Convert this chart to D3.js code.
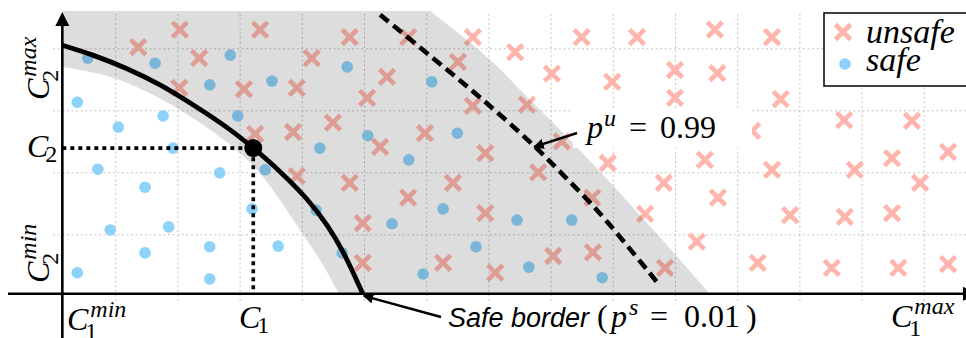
<!DOCTYPE html>
<html>
<head>
<meta charset="utf-8">
<script src="https://cdn.jsdelivr.net/npm/d3@7"></script>
<style>
  body { margin: 0; background: #fff; }
  .math { font-family: "Liberation Serif", "DejaVu Serif", serif; font-size: 32px; fill: #000; }
  .it { font-style: italic; }
  .small { font-size: 24px; }
  .sans { font-family: "Liberation Sans", Arial, sans-serif; font-style: italic; font-size: 27px; }
</style>
</head>
<body>
<svg id="chart"></svg>
<script>
// grid cells are the unit on both axes
var xGrid = d3.range(1, 15),
    yGrid = [1, 2, 3, 4]

// unsafe samples (crosses)
var unsafePts = [
  [1.37,4.02],[2.04,4.30],[3.33,4.30],[2.35,3.84],[4.16,3.84],[4.77,4.18],[2.03,3.36],[3.07,3.34],
  [3.92,3.36],[5.05,3.20],[4.50,2.80],[3.86,2.65],[3.25,2.62],[5.26,2.41],[3.92,1.94],[4.77,1.83],
  [4.98,1.18],[4.98,0.54],[5.71,4.18],[6.75,4.18],[7.43,3.94],[6.51,3.78],[5.37,3.54],[8.50,4.18],
  [9.39,4.18],[8.02,3.59],[8.99,3.46],[6.75,3.07],[7.62,3.09],[5.98,2.63],[6.95,2.31],[8.18,2.50],
  [7.80,2.00],[8.92,2.15],[6.43,1.83],[5.71,1.59],[8.67,1.59],[6.95,1.34],[9.52,1.33],[6.27,0.54],
  [8.04,0.65],[8.68,0.71],[7.11,0.38],[9.82,1.83],[9.84,0.46],[10.35,0.88],[10.69,1.59],[10.48,2.20],
  [10.00,3.65],[10.00,3.20],[10.64,4.30],[10.68,3.60],[11.56,4.18],[11.70,3.18],[12.72,2.84],[13.81,2.83],
  [11.24,2.67],[11.56,2.04],[12.89,2.04],[13.49,2.23],[14.39,2.33],[13.94,1.83],[11.85,1.31],[12.73,1.28],
  [13.49,1.34],[11.33,0.54],[12.52,0.46],[13.59,0.46],[14.39,0.52]
]

// safe samples (dots)
var safePts = [
  [0.56,3.84],[1.64,3.76],[2.85,3.89],[2.52,3.41],[3.52,3.47],[4.73,3.70],[0.39,3.13],[1.77,2.91],
  [2.97,2.91],[1.05,2.73],[1.93,2.39],[5.06,2.59],[4.29,2.39],[3.41,2.04],[0.72,2.05],[2.68,1.99],
  [1.48,1.76],[3.20,1.41],[4.23,1.39],[0.92,1.07],[1.86,1.12],[2.52,0.80],[3.62,0.81],[1.48,0.70],
  [4.65,0.70],[0.39,0.38],[2.52,0.28],[6.09,3.46],[6.50,2.63],[5.72,2.20],[6.27,1.41],[7.46,1.23],
  [8.34,1.23],[6.80,0.80],[5.95,0.36],[7.65,0.47],[8.83,0.30],[5.45,1.17]
]

var origin = [0.15, 0.04]
var pointC = [3.22, 2.39]

// safe border p^s = 0.01
var safeBorder = [[0.15,4.05],[0.64,3.89],[1.19,3.67],[1.72,3.41],[2.25,3.09],[2.80,2.72],[3.22,2.39],
  [3.65,2.01],[4.08,1.57],[4.41,1.14],[4.66,0.72],[4.98,0.04]]
// p^u = 0.99 line
var unsafeBorder = [[5.26,4.54],[6.11,3.84],[6.91,3.17],[7.72,2.44],[8.20,1.96],[8.79,1.34],[9.71,0.23]]
// grey uncertainty band
var bandTop = 4.60
var bandOuter = [[6.06,4.60],[6.46,4.29],[7.03,3.81],[7.67,3.17],[8.39,2.44],[9.12,1.66],[9.84,0.86],[10.56,0.04]]
var bandInner = [[0.16,3.70],[0.92,3.54],[1.72,3.19],[2.42,2.76],[2.95,2.36],[3.33,1.98],[3.65,1.55],
  [3.97,1.07],[4.29,0.59],[4.60,0.04]]

var width = 966, height = 338

var x = d3.scaleLinear().domain([0, 15.5]).range([53, 53 + 15.5 * 62.2]),
    y = d3.scaleLinear().domain([0, 4.8]).range([296.3, 296.3 - 4.8 * 62])

var svg = d3.select("#chart")
    .attr("width", width)
    .attr("height", height)
    .style("display", "block")

var defs = svg.append("defs")
defs.append("marker")
    .attr("id", "head")
    .attr("viewBox", "0 0 10 10")
    .attr("refX", 9).attr("refY", 5)
    .attr("markerWidth", 4.4).attr("markerHeight", 4.4)
    .attr("orient", "auto")
  .append("path")
    .attr("d", "M0,0L10,5L0,10z")
    .attr("fill", "#000")

// dotted grid, through d3 axes with long ticks
svg.append("g")
    .attr("transform", "translate(0,301)")
    .call(d3.axisBottom(x).tickValues(xGrid).tickSize(-289).tickFormat(""))
svg.append("g")
    .attr("transform", "translate(53,0)")
    .call(d3.axisLeft(y).tickValues(yGrid).tickSize(-(width - 53)).tickFormat(""))
svg.selectAll(".domain").remove()
svg.selectAll(".tick line")
    .attr("stroke", "#c4c4c4")
    .attr("stroke-width", 1)
    .attr("stroke-dasharray", "2,2.6")

// markers
var crossPath = "M-7.5,-7.5L7.5,7.5M-7.5,7.5L7.5,-7.5"
svg.append("g").selectAll("path")
    .data(unsafePts)
    .enter().append("path")
    .attr("d", crossPath)
    .attr("transform", d => `translate(${x(d[0])},${y(d[1])})`)
    .style("stroke", "#ffb5ab")
    .style("stroke-width", 4.6)
    .style("fill", "none")

svg.append("g").selectAll("circle")
    .data(safePts)
    .enter().append("circle")
    .attr("cx", d => x(d[0]))
    .attr("cy", d => y(d[1]))
    .attr("r", 5.8)
    .style("fill", "#8dd2fa")

// grey band laid over the samples
var curve = d3.line().x(d => x(d[0])).y(d => y(d[1])).curve(d3.curveCatmullRom.alpha(0.5))
var bandPath = "M" + x(origin[0]) + "," + y(bandTop) +
    "L" + curve(bandOuter).slice(1) +
    "L" + curve(bandInner.slice().reverse()).slice(1) + "Z"
svg.append("path")
    .attr("d", bandPath)
    .style("fill", "#000")
    .style("fill-opacity", 0.135)

// axes
svg.append("line")
    .attr("x1", 8).attr("x2", 963)
    .attr("y1", y(origin[1])).attr("y2", y(origin[1]))
    .style("stroke", "#000").style("stroke-width", 2.6)
svg.append("path")
    .attr("d", `M963,${y(origin[1]) - 7}L978,${y(origin[1])}L963,${y(origin[1]) + 7}z`)
    .style("fill", "#000")
svg.append("line")
    .attr("x1", x(origin[0])).attr("x2", x(origin[0]))
    .attr("y1", height).attr("y2", 24)
    .style("stroke", "#000").style("stroke-width", 2.6)
svg.append("path")
    .attr("d", `M${x(origin[0]) - 7},26L${x(origin[0])},12L${x(origin[0]) + 7},26z`)
    .style("fill", "#000")

// borders
svg.append("path")
    .attr("d", curve(safeBorder))
    .style("fill", "none").style("stroke", "#000").style("stroke-width", 4.8)
svg.append("path")
    .attr("d", curve(unsafeBorder))
    .style("fill", "none").style("stroke", "#000").style("stroke-width", 4.6)
    .style("stroke-dasharray", "11,6")

// projection of C onto the axes
svg.append("path")
    .attr("d", `M${x(origin[0])},${y(pointC[1])}H${x(pointC[0])}V${y(origin[1])}`)
    .style("fill", "none").style("stroke", "#000").style("stroke-width", 3.6)
    .style("stroke-dasharray", "4,4")
svg.append("circle")
    .attr("cx", x(pointC[0])).attr("cy", y(pointC[1]))
    .attr("r", 9).style("fill", "#000")

// math labels: base letter with optional super- and subscript
function mathLabel(px, py, base, sup, sub, rotated, subDy) {
    var g = svg.append("g")
        .attr("transform", `translate(${px},${py})` + (rotated ? " rotate(-90)" : ""))
    var b = g.append("text").attr("class", "math it").text(base)
    var w = b.node().getComputedTextLength()
    if (sup) g.append("text").attr("class", "math it small").attr("x", w + 2).attr("y", -13).text(sup)
    if (sub) g.append("text").attr("class", "math small").attr("x", w - 3).attr("y", subDy || 9).text(sub)
    return g
}

mathLabel(49, 100, "C", "max", "2", true)
mathLabel(49, 283, "C", "min", "2", true)
mathLabel(27, 157, "C", null, "2", false, 5)
mathLabel(67, 330, "C", "min", "1", false)
mathLabel(239, 328, "C", null, "1", false, 5)
mathLabel(891, 327, "C", "max", "1", false)

// p^u annotation
svg.append("rect")
    .attr("x", 573).attr("y", 108).attr("width", 179).attr("height", 40)
    .style("fill", "#fff")
var pu = svg.append("text").attr("class", "math").attr("y", 138)
pu.append("tspan").attr("class", "it").attr("x", 587).text("p")
pu.append("tspan").attr("class", "it small").attr("x", 604).attr("y", 126).text("u")
pu.append("tspan").attr("x", 629).attr("y", 138).text("=")
pu.append("tspan").attr("x", 660).text("0.99")
svg.append("line")
    .attr("x1", 577).attr("y1", 133).attr("x2", x(7.72) + 1).attr("y2", y(2.41))
    .style("stroke", "#000").style("stroke-width", 2.4)
    .attr("marker-end", "url(#head)")

// safe border annotation
svg.append("text").attr("class", "sans").attr("x", 448).attr("y", 327).text("Safe border")
var ps = svg.append("text").attr("class", "math").attr("y", 327)
ps.append("tspan").attr("x", 597).text("(")
ps.append("tspan").attr("class", "it").attr("x", 611).text("p")
ps.append("tspan").attr("class", "it small").attr("x", 629).attr("y", 315).text("s")
ps.append("tspan").attr("x", 650).attr("y", 327).text("=")
ps.append("tspan").attr("x", 684).text("0.01")
ps.append("tspan").attr("x", 746).text(")")
svg.append("line")
    .attr("x1", 441).attr("y1", 317).attr("x2", x(4.98) + 1).attr("y2", y(origin[1]) + 2)
    .style("stroke", "#000").style("stroke-width", 2.4)
    .attr("marker-end", "url(#head)")

// legend
var legend = svg.append("g")
legend.append("rect")
    .attr("x", 824).attr("y", 13).attr("width", 160).attr("height", 73)
    .style("fill", "#fff").style("stroke", "#000").style("stroke-width", 1.5)
legend.append("path")
    .attr("d", crossPath)
    .attr("transform", "translate(843,32)")
    .style("stroke", "#ffb5ab").style("stroke-width", 4.6)
legend.append("circle")
    .attr("cx", 845).attr("cy", 64).attr("r", 5.8)
    .style("fill", "#8dd2fa")
legend.append("text").attr("class", "math it").style("font-size", "34px")
    .attr("x", 866).attr("y", 43).text("unsafe")
legend.append("text").attr("class", "math it").style("font-size", "34px")
    .attr("x", 866).attr("y", 71).text("safe")
</script>
</body>
</html>
